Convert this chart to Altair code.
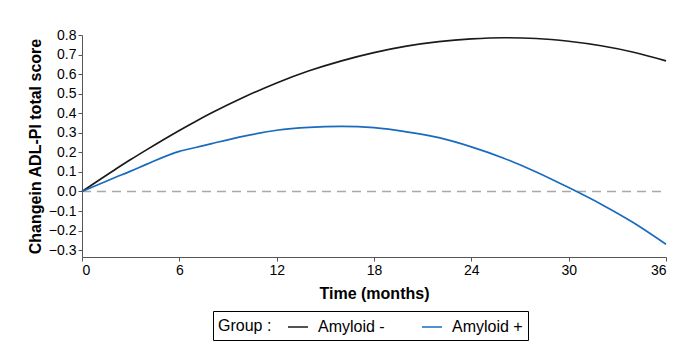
import altair as alt
import pandas as pd

months = [0, 2, 3, 4, 6, 7, 8, 10, 12, 14, 16, 18, 20, 22, 24, 26, 28, 30, 32, 34, 36]
amyloid_neg = [0.0, 0.11, 0.163, 0.214, 0.312, 0.358, 0.402, 0.483, 0.555, 0.617, 0.668, 0.71, 0.743, 0.766, 0.78, 0.786, 0.782, 0.768, 0.745, 0.712, 0.668]
amyloid_pos = [0.0, 0.07, 0.104, 0.14, 0.205, 0.225, 0.245, 0.283, 0.313, 0.328, 0.333, 0.326, 0.305, 0.275, 0.228, 0.17, 0.10, 0.02, -0.065, -0.16, -0.27]

groups = ["Amyloid -", "Amyloid +"]
colors = ["#1a1a1a", "#1a6bbd"]
x_ticks = [0, 6, 12, 18, 24, 30, 36]
y_ticks = [-0.3, -0.2, -0.1, 0.0, 0.1, 0.2, 0.3, 0.4, 0.5, 0.6, 0.7, 0.8]

rows = []
for t, a, b in zip(months, amyloid_neg, amyloid_pos):
    rows.append({"t": t, "v": a, "g": groups[0]})
    rows.append({"t": t, "v": b, "g": groups[1]})
df = pd.DataFrame(rows)
zero_df = pd.DataFrame({"t": [0, 36], "v": [0.0, 0.0]})

FONT = "Liberation Sans, Arial, sans-serif"

xs = alt.Scale(domain=[0, 36], nice=False, zero=False)
ys = alt.Scale(domain=[-0.335, 0.8], nice=False, zero=False)

x_enc = alt.X("t:Q", scale=xs, title="Time (months)",
              axis=alt.Axis(values=x_ticks, format="d", labelOverlap=False))
y_enc = alt.Y("v:Q", scale=ys, title="Changein ADL-PI total score",
              axis=alt.Axis(values=y_ticks, format=".1f", labelOverlap=False,
                            tickCount=12))

zero_line = alt.Chart(zero_df).mark_line(
    color="#a8a8a8", strokeDash=[9, 6], strokeWidth=1.6
).encode(x=x_enc, y=y_enc)

lines = alt.Chart(df).mark_line(strokeWidth=1.7, interpolate="monotone").encode(
    x=x_enc,
    y=y_enc,
    color=alt.Color("g:N", scale=alt.Scale(domain=groups, range=colors),
                    legend=alt.Legend(
                        title="Group :", orient="none", direction="horizontal",
                        titleOrient="left", legendX=131, legendY=276,
                        symbolType="stroke", symbolStrokeWidth=1.5, symbolSize=400,
                        strokeColor="#000000", padding=5, columnPadding=34,
                        labelOffset=9,
                        labelFontSize=16, titleFontSize=16, titleFontWeight="normal",
                        labelFont=FONT, titleFont=FONT, labelColor="#000", titleColor="#000",
                        titlePadding=15, titleBaseline="middle")),
)

chart = alt.layer(zero_line, lines).properties(
    width=584, height=222,
    autosize=alt.AutoSizeParams(type="none"),
    padding={"left": 74, "top": 27, "right": 16, "bottom": 88},
).configure_view(stroke=None).configure_axis(
    domainColor="#555", tickColor="#555", grid=False,
    labelFont=FONT, titleFont=FONT, labelFontSize=14, titleFontSize=16,
    labelColor="#000", titleColor="#000", titleFontWeight="bold",
    tickSize=4, labelPadding=2, labelOverlap=False
).configure_axisX(titlePadding=8).configure_axisY(titlePadding=5)

chart.save("out.html", embed_options={"renderer": "svg", "actions": False})
